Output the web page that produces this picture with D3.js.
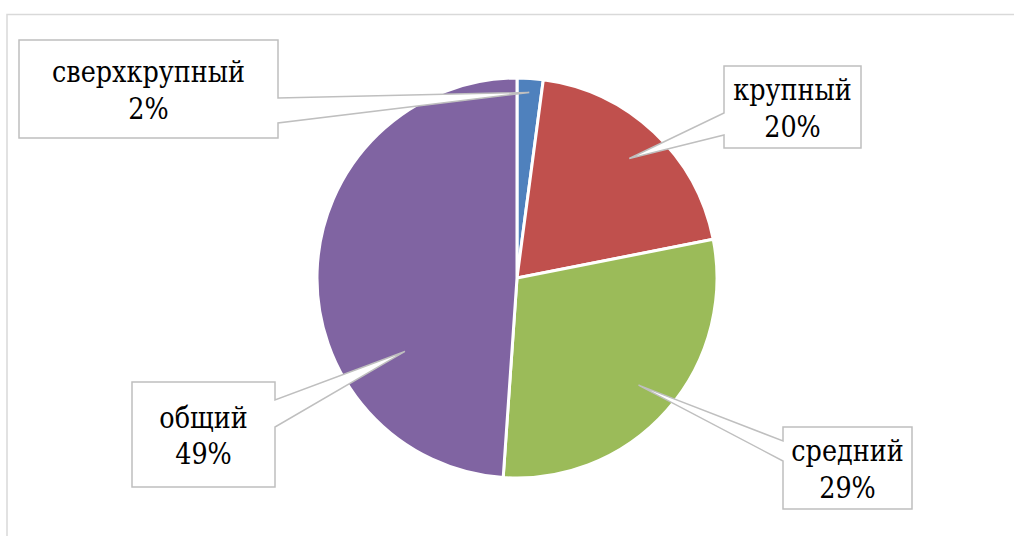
<!DOCTYPE html>
<html>
<head>
<meta charset="utf-8">
<script src="https://cdn.jsdelivr.net/npm/d3@7"></script>
<style>
  html, body { margin: 0; padding: 0; background: #fff; }
  #chart { width: 1014px; height: 536px; }
</style>
</head>
<body>
<div id="chart"></div>
<script>
//Datos
const categories = ['сверхкрупный', 'крупный', 'средний', 'общий'];
const values = [2.1, 19.8, 29.2, 48.9];
const pctLabels = ['2%', '20%', '29%', '49%'];
const colors = ['#4F81BD', '#C0504D', '#9BBB59', '#8064A2'];

//Posición de las etiquetas (cajas) y del punto de anclaje dentro del sector
const boxes = [
    {x: 19, y: 40, w: 259, h: 98, side: 'right', y1: 98, y2: 123, frac: 0.5, rf: 0.93},
    {x: 724, y: 66, w: 137, h: 82, side: 'left', y1: 113, y2: 135, frac: 0.5, rf: 0.82},
    {x: 783, y: 427, w: 129, h: 82, side: 'left', y1: 441, y2: 461, frac: 0.5, rf: 0.81},
    {x: 132, y: 382, w: 143, h: 105, side: 'right', y1: 400, y2: 427, frac: 0.3, rf: 0.67}
];

//Fuente serif con cirílico disponible: DejaVu Serif comprimida horizontalmente
const FONT = "'DejaVu Serif', serif";
const NAME_REF_WIDTH = 193;

let width = 1014, height = 536;
let cx = 517, cy = 278, radius = 200;

let svg = d3.select('#chart')
    .append('svg')
        .attr('width', width)
        .attr('height', height);

//Marco del gráfico
svg.append('rect')
    .attr('x', 7)
    .attr('y', 14.5)
    .attr('width', 1100)
    .attr('height', 600)
    .attr('fill', 'none')
    .attr('stroke', '#d9d9d9')
    .attr('stroke-width', 1.5);

let data = categories.map(function(c, i) {
    return {name: c, value: values[i], pct: pctLabels[i], color: colors[i]};
});

let pie = d3.pie().sort(null).value(function(d) { return d.value; });
let arcs = pie(data);

let arc = d3.arc().innerRadius(0).outerRadius(radius);

let g = svg.append('g')
    .attr('transform', 'translate(' + cx + ',' + cy + ')');

g.selectAll('path.slice')
    .data(arcs)
    .enter()
    .append('path')
    .attr('class', 'slice')
    .attr('d', arc)
    .attr('fill', function(d) { return d.data.color; })
    .attr('stroke', '#fff')
    .attr('stroke-width', 3)
    .attr('stroke-linejoin', 'round');

let labelTexts = [];

//Etiquetas tipo "callout"
arcs.forEach(function(d, i) {
    let b = boxes[i];
    let a = d.startAngle + b.frac * (d.endAngle - d.startAngle);
    let r = radius * b.rf;
    let tx = cx + r * Math.sin(a),
        ty = cy - r * Math.cos(a);

    let x0 = b.x, y0 = b.y, x1 = b.x + b.w, y1 = b.y + b.h;
    let pts;
    if (b.side == 'right') {
        pts = [[x0, y0], [x1, y0], [x1, b.y1], [tx, ty], [x1, b.y2], [x1, y1], [x0, y1]];
    } else {
        pts = [[x0, y0], [x1, y0], [x1, y1], [x0, y1], [x0, b.y2], [tx, ty], [x0, b.y1]];
    }

    svg.append('path')
        .attr('d', 'M' + pts.map(function(p) { return p[0] + ',' + p[1]; }).join('L') + 'Z')
        .attr('fill', '#fff')
        .attr('stroke', '#bfbfbf')
        .attr('stroke-width', 1.5)
        .attr('stroke-linejoin', 'miter');

    let midX = b.x + b.w / 2,
        midY = b.y + b.h / 2;

    let t = svg.append('text')
        .attr('text-anchor', 'middle')
        .attr('font-family', FONT)
        .attr('font-size', '29px')
        .attr('fill', '#000')
        .attr('data-x', midX)
        .attr('data-y', midY);

    t.append('tspan')
        .attr('x', 0)
        .attr('y', -7)
        .text(d.data.name);
    t.append('tspan')
        .attr('x', 0)
        .attr('y', 30)
        .text(d.data.pct);

    labelTexts.push(t);
});

//Compresión horizontal para imitar el ancho de Times
let k = NAME_REF_WIDTH / labelTexts[0].select('tspan').node().getComputedTextLength();
labelTexts.forEach(function(t) {
    t.attr('transform', 'translate(' + t.attr('data-x') + ',' + t.attr('data-y') + ') scale(' + k + ',1)');
});
</script>
</body>
</html>
